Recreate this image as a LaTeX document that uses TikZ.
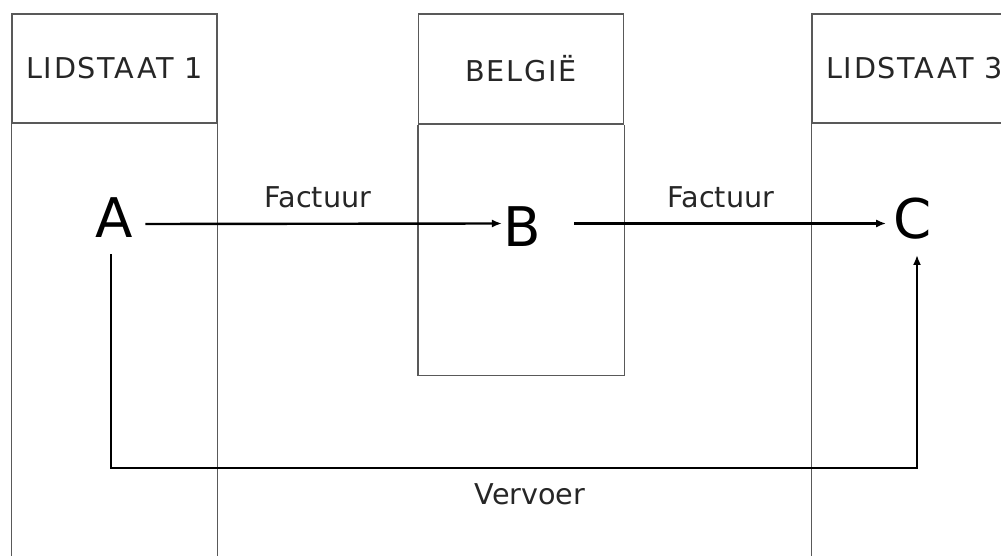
\documentclass[tikz,border=0pt]{standalone}
\usepackage{fontspec}
\setmainfont{DejaVu Sans}
\usetikzlibrary{arrows.meta}
\begin{document}
\begin{tikzpicture}[x=0.75pt,y=-0.75pt,
    land/.style={draw=black!65,line width=1pt,minimum width=153.75pt,minimum height=81.75pt,
        inner sep=0pt,font=\fontsize{21.5}{26}\selectfont\addfontfeature{LetterSpace=6},text=black!85},
    rand/.style={draw=black!65,line width=1pt},
    partij/.style={inner sep=0pt,font=\fontsize{41}{48}\selectfont},
    tekst/.style={inner sep=0pt,font=\fontsize{21.5}{26}\selectfont,text=black!85},
    pijl/.style={line width=1.8pt,-{Latex[length=7.5pt,width=6pt]}}]
    \clip (0,0) rectangle (1001,556);
    % landen
    \node[land] (land1) at (114.5,68.5) {LIDSTAAT 1};
    \node[land,minimum height=82.5pt] (land2) at (521,69) {BELGIË};
    \node[land] (land3) at (914.5,68.5) {LIDSTAAT 3};
    \draw[rand] (land1.south west) -- ++(0,440) (land1.south east) -- ++(0,440);
    \draw[rand] (land2.south west) -- ++(0,251) -| (land2.south east);
    \draw[rand] (land3.south west) -- ++(0,440);
    % partijen
    \node[partij] (A) at (114.5,218) {A};
    \node[partij] (B) at (522,227) {B};
    \node[partij] (C) at (912.5,218.5) {C};
    \node[tekst] (factuur1) at (318,197) {Factuur};
    \node[tekst] (factuur2) at (721,197) {Factuur};
    \node[tekst] (vervoer) at (530,494) {Vervoer};
    \coordinate (bodem) at (0,468);
    \draw[pijl] ([shift={(12,6)}]A.east) -- ([shift={(-1,-3.5)}]B.west);
    \draw[pijl] ([shift={(33,-3.5)}]B.east) -- ([shift={(-7,5)}]C.west);
    \draw[pijl] ([shift={(-3.5,16)}]A.south) coordinate (a0) -- (a0 |- bodem) -| ([shift={(4.5,15.5)}]C.south);
\end{tikzpicture}
\end{document}
